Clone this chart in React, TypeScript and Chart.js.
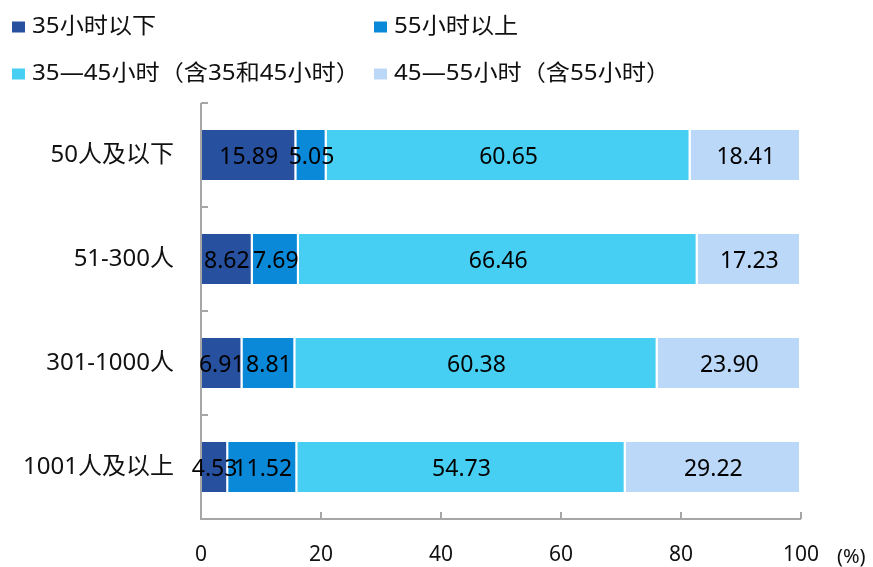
import React, { useEffect, useRef } from "react";
import { Chart, registerables } from "chart.js";

Chart.register(...registerables);

const categories = ["50人及以下", "51-300人", "301-1000人", "1001人及以上"];
const under35 = [15.89, 8.62, 6.91, 4.53];
const over55 = [5.05, 7.69, 8.81, 11.52];
const h35to45 = [60.65, 66.46, 60.38, 54.73];
const h45to55 = [18.41, 17.23, 23.9, 29.22];
const seriesLabels = [
  "35小时以下",
  "55小时以上",
  "35—45小时（含35和45小时）",
  "45—55小时（含55小时）",
];
const seriesColors = ["#27509F", "#0989D8", "#46CFF2", "#BBD8F8"];
const xTicks = [0, 20, 40, 60, 80, 100];
const unitLabel = "(%)";

const FONT = "'Noto Sans', 'Noto Sans CJK SC', sans-serif";
const AXIS_COLOR = "#A6A6A6";

const legendPlugin = {
  id: "customLegend",
  afterDraw(chart: any) {
    const ctx = chart.ctx;
    const cols = [12, 374];
    const rows = [27, 74];
    ctx.save();
    chart.data.datasets.forEach((ds: any, i: number) => {
      const x = cols[i % 2];
      const y = rows[Math.floor(i / 2)];
      ctx.fillStyle = ds.backgroundColor;
      ctx.fillRect(x, y - 5.5, 13, 11);
      ctx.save();
      ctx.translate(x + 20, y);
      ctx.scale(1.15, 1.05);
      ctx.fillStyle = "#111";
      ctx.font = `21px ${FONT}`;
      ctx.textBaseline = "middle";
      ctx.textAlign = "left";
      ctx.fillText(ds.label, 0, 0);
      ctx.restore();
    });
    ctx.restore();
  },
};

const axesPlugin = {
  id: "customAxes",
  afterDatasetsDraw(chart: any) {
    const ctx = chart.ctx;
    const { left, right, top, bottom } = chart.chartArea;
    const xs = chart.scales.x;
    const n = chart.data.labels.length;
    ctx.save();
    ctx.strokeStyle = AXIS_COLOR;
    ctx.lineWidth = 2;
    ctx.beginPath();
    ctx.moveTo(left, top);
    ctx.lineTo(left, bottom);
    ctx.lineTo(right, bottom);
    ctx.stroke();
    ctx.beginPath();
    for (let i = 0; i <= n; i++) {
      const y = top + (i * (bottom - top)) / n;
      ctx.moveTo(left, y);
      ctx.lineTo(left + 7, y);
    }
    xTicks.forEach((v) => {
      if (v === 0) return;
      const x = xs.getPixelForValue(v);
      ctx.moveTo(x, bottom);
      ctx.lineTo(x, bottom - 7);
    });
    ctx.stroke();
    ctx.fillStyle = "#111";
    ctx.font = `20px ${FONT}`;
    ctx.textBaseline = "middle";
    ctx.textAlign = "left";
    ctx.fillText(unitLabel, 837, 557);
    ctx.restore();
  },
};

const dataLabelPlugin = {
  id: "dataLabels",
  afterDatasetsDraw(chart: any) {
    const ctx = chart.ctx;
    ctx.save();
    ctx.fillStyle = "#000";
    ctx.font = `23px ${FONT}`;
    ctx.textAlign = "center";
    ctx.textBaseline = "middle";
    chart.data.datasets.forEach((ds: any, di: number) => {
      const meta = chart.getDatasetMeta(di);
      meta.data.forEach((el: any, i: number) => {
        const p = el.getProps(["x", "y", "base"], true);
        const cx = (p.x + p.base) / 2;
        ctx.fillText(Number(ds.data[i]).toFixed(2), cx, p.y + 2);
      });
    });
    ctx.restore();
  },
};

export default function App() {
  const ref = useRef<HTMLCanvasElement | null>(null);
  useEffect(() => {
    if (!ref.current) return;
    const series = [under35, over55, h35to45, h45to55];
    const chart = new Chart(ref.current, {
      type: "bar",
      data: {
        labels: categories,
        datasets: series.map((d, i) => ({
          label: seriesLabels[i],
          data: d,
          backgroundColor: seriesColors[i],
          borderColor: "#FFFFFF",
          borderWidth: { top: 0, bottom: 0, left: 0, right: 2 },
          borderSkipped: false,
          categoryPercentage: 1,
          barPercentage: 0.48,
        })),
      },
      options: {
        indexAxis: "y",
        responsive: false,
        animation: false,
        layout: { padding: { top: 103, right: 72, left: 0, bottom: 0 } },
        plugins: {
          legend: { display: false },
          tooltip: { enabled: false },
        },
        scales: {
          x: {
            stacked: true,
            min: 0,
            max: 100,
            afterBuildTicks: (scale: any) => {
              scale.ticks = xTicks.map((v) => ({ value: v }));
            },
            afterFit: (scale: any) => {
              scale.height = 48;
            },
            grid: { display: false, drawTicks: false },
            border: { display: false },
            ticks: {
              padding: 23,
              color: "#111",
              font: { family: FONT, size: 21 },
              maxRotation: 0,
            },
          },
          y: {
            stacked: true,
            afterFit: (scale: any) => {
              scale.width = 201;
            },
            grid: { display: false, drawTicks: false },
            border: { display: false },
            ticks: {
              padding: 27,
              color: "#111",
              font: { family: FONT, size: 24 },
            },
          },
        },
      },
      plugins: [legendPlugin, axesPlugin, dataLabelPlugin],
    } as any);
    return () => chart.destroy();
  }, []);
  return (
    <div style={{ position: "absolute", left: 0, top: 0, width: 873, height: 567 }}>
      <canvas ref={ref} width={873} height={567} style={{ display: "block" }} />
    </div>
  );
}
